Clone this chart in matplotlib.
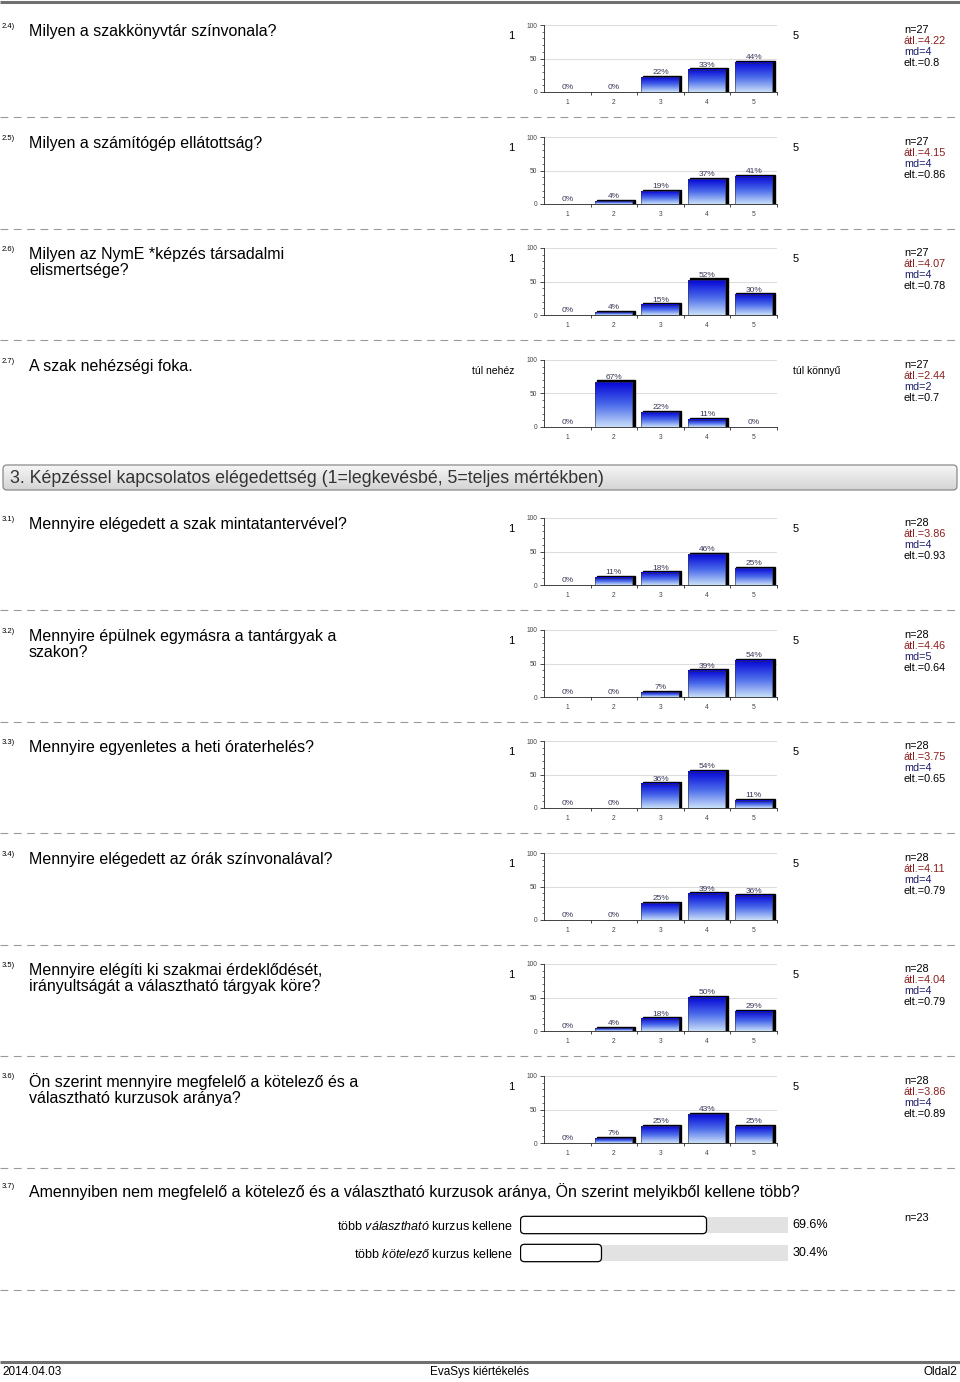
import numpy as np
import matplotlib.pyplot as plt
from matplotlib.colors import LinearSegmentedColormap
from matplotlib.patches import Rectangle, FancyBboxPatch

plt.rcParams['font.family'] = ['Liberation Sans', 'DejaVu Sans']
plt.rcParams['mathtext.fontset'] = 'custom'
plt.rcParams['mathtext.rm'] = 'Liberation Sans'
plt.rcParams['mathtext.it'] = 'Liberation Sans:italic'

# --- data -------------------------------------------------------------
q_nums = ['2.4)', '2.5)', '2.6)', '2.7)', '3.1)', '3.2)', '3.3)', '3.4)', '3.5)', '3.6)']
q_texts = [
    ['Milyen a szakkönyvtár színvonala?'],
    ['Milyen a számítógép ellátottság?'],
    ['Milyen az NymE *képzés társadalmi', 'elismertsége?'],
    ['A szak nehézségi foka.'],
    ['Mennyire elégedett a szak mintatantervével?'],
    ['Mennyire épülnek egymásra a tantárgyak a', 'szakon?'],
    ['Mennyire egyenletes a heti óraterhelés?'],
    ['Mennyire elégedett az órák színvonalával?'],
    ['Mennyire elégíti ki szakmai érdeklődését,', 'irányultságát a választható tárgyak köre?'],
    ['Ön szerint mennyire megfelelő a kötelező és a', 'választható kurzusok aránya?'],
]
pcts = [
    [0, 0, 22, 33, 44],
    [0, 4, 19, 37, 41],
    [0, 4, 15, 52, 30],
    [0, 67, 22, 11, 0],
    [0, 11, 18, 46, 25],
    [0, 0, 7, 39, 54],
    [0, 0, 36, 54, 11],
    [0, 0, 25, 39, 36],
    [0, 4, 18, 50, 29],
    [0, 7, 25, 43, 25],
]
n_vals = [27, 27, 27, 27, 28, 28, 28, 28, 28, 28]
means = ['4.22', '4.15', '4.07', '2.44', '3.86', '4.46', '3.75', '4.11', '4.04', '3.86']
medians = ['4', '4', '4', '2', '4', '5', '4', '4', '4', '4']
sds = ['0.8', '0.86', '0.78', '0.7', '0.93', '0.64', '0.65', '0.79', '0.79', '0.89']
left_labels = ['1', '1', '1', 'túl nehéz', '1', '1', '1', '1', '1', '1']
right_labels = ['5', '5', '5', 'túl könnyű', '5', '5', '5', '5', '5', '5']
scale = [1, 2, 3, 4, 5]

section_title = '3. Képzéssel kapcsolatos elégedettség (1=legkevésbé, 5=teljes mértékben)'
q37_text = 'Amennyiben nem megfelelő a kötelező és a választható kurzusok aránya, Ön szerint melyikből kellene több?'
q37_labels = [r'több $\mathit{választható}$ kurzus kellene', r'több $\mathit{kötelező}$ kurzus kellene']
q37_vals = [69.6, 30.4]
q37_n = 23

# --- layout -----------------------------------------------------------
W, H = 960, 1382
fig = plt.figure(figsize=(9.6, 13.82), dpi=100)
bg = fig.add_axes([0, 0, 1, 1])
bg.set_xlim(0, W)
bg.set_ylim(H, 0)
bg.axis('off')

blue = LinearSegmentedColormap.from_list('bars', ['#c8def8', '#4a6aea', '#0606d6'])
grad = np.linspace(0, 1, 100).reshape(-1, 1)


def dashed(y):
    bg.plot([0, W], [y, y], color='#9a9a9a', lw=0.8, dashes=(7, 5))


def bar_chart(top, vals):
    ax = fig.add_axes([544 / W, 1 - (top + 67) / H, 233 / W, 67 / H])
    w = 0.82
    for x, v in zip(scale, vals):
        if v > 0:
            ax.add_patch(Rectangle((x - w / 2 + 0.04, 0), w, v + 2.5, color='black', zorder=2))
            ax.imshow(grad, cmap=blue, extent=(x - w / 2, x + w / 2 - 0.02, 0, v),
                      origin='lower', aspect='auto', zorder=3)
            ax.add_patch(Rectangle((x - w / 2, 0), w - 0.02, v, fill=False,
                                   ec='#303040', lw=0.4, zorder=4))
        ax.text(x, v + 2, f'{v}%', ha='center', va='bottom', fontsize=6,
                color='#3a3a5a', zorder=5)
    ax.set_xlim(0.5, 5.5)
    ax.set_ylim(0, 100)
    for s in ['top', 'right']:
        ax.spines[s].set_visible(False)
    for s in ['left', 'bottom']:
        ax.spines[s].set_linewidth(0.6)
        ax.spines[s].set_color('#222')
    ax.axhline(50, color='#dddddd', lw=0.8, zorder=1)
    ax.axhline(100, color='#dddddd', lw=0.8, zorder=1)
    ax.set_yticks([0, 50, 100])
    ax.set_yticks(range(0, 101, 10), minor=True)
    ax.set_xticks(scale)
    ax.set_xticks([1.5, 2.5, 3.5, 4.5, 5.5], minor=True)
    ax.tick_params(axis='y', which='major', labelsize=4.8, length=3, width=0.5,
                   pad=2, labelcolor='#444')
    ax.tick_params(axis='y', which='minor', length=1.5, width=0.4)
    ax.tick_params(axis='x', which='major', labelsize=4.8, length=0, pad=5,
                   labelcolor='#444')
    ax.tick_params(axis='x', which='minor', length=2, width=0.5)
    ax.set_facecolor('none')
    return ax


tops = [25, 137, 248, 360, 518, 630, 741, 853, 964, 1076]

# top line
bg.plot([0, W], [2, 2], color='#707070', lw=2.2, solid_capstyle='butt')

for i, top in enumerate(tops):
    bg.text(2, top + 1, q_nums[i], fontsize=5.5, va='center', ha='left')
    for k, line in enumerate(q_texts[i]):
        bg.text(29, top + 6 + 16 * k, line, fontsize=11.5, va='center', ha='left')
    if left_labels[i] == '1':
        bg.text(511, top + 11, left_labels[i], fontsize=8, va='center', ha='center')
        bg.text(796, top + 11, right_labels[i], fontsize=8, va='center', ha='center')
    else:
        bg.text(514, top + 11, left_labels[i], fontsize=7.5, va='center', ha='right')
        bg.text(793, top + 11, right_labels[i], fontsize=7.5, va='center', ha='left')
    stats = [(f'n={n_vals[i]}', 'black'), (f'átl.={means[i]}', '#8b1e1e'),
             (f'md={medians[i]}', '#1c1c6a'), (f'elt.={sds[i]}', 'black')]
    for k, (s, c) in enumerate(stats):
        bg.text(904, top + 5 + 11 * k, s, fontsize=7.8, color=c, va='center', ha='left')
    bar_chart(top, pcts[i])
    if i != 3:
        dashed(top + 92)

# section header bar
box = FancyBboxPatch((3, 465), 954, 25, boxstyle='round,pad=0,rounding_size=4',
                     fc='none', ec='#8a8a8a', lw=0.9, zorder=3)
bg.add_patch(box)
img = bg.imshow(np.linspace(0, 1, 50).reshape(-1, 1),
                cmap=LinearSegmentedColormap.from_list('g', ['#f6f6f6', '#d4d4d4']),
                extent=(3, 957, 490, 465), origin='upper', aspect='auto', zorder=2)
img.set_clip_path(box)
bg.text(10, 478, section_title, fontsize=12.8, color='#333333', va='center', ha='left', zorder=4)

# question 3.7
bg.text(2, 1187, '3.7)', fontsize=5.5, va='center', ha='left')
bg.text(29, 1192, q37_text, fontsize=11.5, va='center', ha='left')
ax7 = fig.add_axes([520 / W, 1 - 1267 / H, 268 / W, 56 / H])
ax7.set_xlim(0, 100)
ax7.set_ylim(1.5, -0.5)
ax7.barh(range(2), [100, 100], height=0.57, color='#e2e2e2', zorder=1)
x_px = 268 / 100
y_px = 28
for i, v in enumerate(q37_vals):
    ax7.add_patch(FancyBboxPatch((0.2, i - 0.31), v - 0.2, 0.62,
                                 boxstyle=f'round,pad=0,rounding_size={4 / x_px}',
                                 mutation_aspect=x_px / y_px,
                                 fc='white', ec='black', lw=0.9, zorder=2))
    ax7.text(101.8, i, f'{v}%', fontsize=9, va='center', ha='left')
ax7.set_yticks(range(2), q37_labels)
ax7.set_xticks([])
ax7.tick_params(axis='y', length=0, pad=5, labelsize=9)
for s in ax7.spines.values():
    s.set_visible(False)
ax7.set_facecolor('none')
bg.text(904, 1218, f'n={q37_n}', fontsize=7.8, va='center', ha='left')
dashed(1290)

# footer
bg.plot([0, W], [1362, 1362], color='#707070', lw=2.2, solid_capstyle='butt')
bg.text(2, 1372, '2014.04.03', fontsize=8.5, va='center', ha='left')
bg.text(480, 1372, 'EvaSys kiértékelés', fontsize=8.5, va='center', ha='center')
bg.text(957, 1372, 'Oldal2', fontsize=8.5, va='center', ha='right')

fig.savefig('out.png', dpi=100)
